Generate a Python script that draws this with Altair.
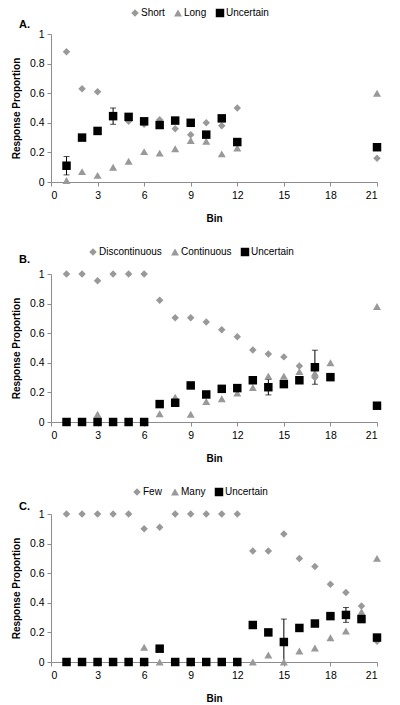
import altair as alt
import pandas as pd

# ---------------- data ----------------
bins_A = [1, 2, 3, 4, 5, 6, 7, 8, 9, 10, 11, 12, 21]
names_A = ["Short", "Long", "Uncertain"]
short_A = [0.88, 0.63, 0.61, 0.45, 0.41, 0.39, 0.42, 0.36, 0.32, 0.40, 0.38, 0.50, 0.16]
long_A = [0.01, 0.07, 0.045, 0.10, 0.14, 0.205, 0.195, 0.225, 0.28, 0.275, 0.19, 0.23, 0.60]
unc_A = [0.11, 0.30, 0.345, 0.445, 0.44, 0.41, 0.385, 0.415, 0.40, 0.32, 0.43, 0.27, 0.235]
err_bins_A = [1, 4]
err_A = [0.062, 0.055]

bins_B = [1, 2, 3, 4, 5, 6, 7, 8, 9, 10, 11, 12, 13, 14, 15, 16, 17, 18, 21]
names_B = ["Discontinuous", "Continuous", "Uncertain"]
disc_B = [1.0, 1.0, 0.955, 1.0, 1.0, 1.0, 0.823, 0.705, 0.705, 0.675, 0.623, 0.576, 0.487, 0.46, 0.44, 0.379, 0.30, 0.30, 0.11]
cont_B = [0, 0, 0.052, 0, 0, 0, 0.056, 0.168, 0.052, 0.139, 0.157, 0.195, 0.233, 0.31, 0.31, 0.341, 0.33, 0.40, 0.78]
unc_B = [0, 0, 0, 0, 0, 0, 0.121, 0.13, 0.247, 0.186, 0.224, 0.229, 0.282, 0.235, 0.256, 0.282, 0.37, 0.303, 0.11]
err_bins_B = [14, 17]
err_B = [0.052, 0.115]

bins_C = list(range(1, 22))
names_C = ["Few", "Many", "Uncertain"]
few_C = [1, 1, 1, 1, 1, 0.90, 0.91, 1, 1, 1, 1, 1, 0.75, 0.75, 0.865, 0.70, 0.646, 0.525, 0.47, 0.378, 0.14]
many_C = [0, 0, 0, 0, 0, 0.10, 0, 0, 0, 0, 0, 0, 0, 0.047, 0, 0.074, 0.095, 0.164, 0.21, 0.34, 0.70]
unc_C = [0, 0, 0, 0, 0, 0, 0.09, 0, 0, 0, 0, 0, 0.25, 0.20, 0.135, 0.23, 0.26, 0.31, 0.318, 0.29, 0.165]
err_bins_C = [15, 19]
err_C = [0.155, 0.05]

x_ticks = [0, 3, 6, 9, 12, 15, 18, 21]
y_ticks = [0, 0.2, 0.4, 0.6, 0.8, 1]

FONT = "Liberation Sans"
GREY = "#999999"
W, H = 326, 148


def panel(label, names, bins, s1, s2, s3, ebins, evals, legend_x, legend_y, title_dy):
    rows = []
    for name, vals in zip(names, [s1, s2, s3]):
        for b, v in zip(bins, vals):
            rows.append({"bin": b, "series": name, "value": v})
    df = pd.DataFrame(rows)
    unc = dict(zip(bins, s3))
    edf = pd.DataFrame({
        "bin": ebins,
        "lo": [unc[b] - e for b, e in zip(ebins, evals)],
        "hi": [unc[b] + e for b, e in zip(ebins, evals)],
    })
    xs = alt.Scale(domain=[0, 21], nice=False, zero=True)
    ys = alt.Scale(domain=[0, 1], nice=False)
    xax = alt.Axis(values=x_ticks, title="Bin", grid=False, labelOverlap=False)
    yax = alt.Axis(values=y_ticks, format="~g", title="Response Proportion", grid=False,
                   labelOverlap=False, tickCount=6)
    X = alt.X("bin:Q", scale=xs, axis=xax)
    leg = alt.Legend(orient="none", legendX=legend_x, legendY=legend_y, direction="horizontal",
                     title=None, symbolSize=30, labelFont=FONT, labelFontSize=10,
                     labelColor="#000", columnPadding=8, labelOffset=1, padding=0,
                     symbolStrokeWidth=0, symbolOpacity=1)
    base_e = alt.Chart(edf)
    rule = base_e.mark_rule(color="black", strokeWidth=1, clip=True).encode(
        x=X, y=alt.Y("lo:Q", scale=ys, axis=yax), y2="hi:Q")
    cap_lo = base_e.mark_tick(color="black", orient="horizontal", size=6, thickness=1, clip=True).encode(
        x=X, y=alt.Y("lo:Q", scale=ys, axis=yax))
    cap_hi = base_e.mark_tick(color="black", orient="horizontal", size=6, thickness=1, clip=True).encode(
        x=X, y=alt.Y("hi:Q", scale=ys, axis=yax))
    pts = alt.Chart(df).mark_point(filled=True, opacity=1, strokeWidth=0).encode(
        x=X,
        y=alt.Y("value:Q", scale=ys, axis=yax),
        shape=alt.Shape("series:N", scale=alt.Scale(domain=names, range=["diamond", "triangle-up", "square"]), legend=leg),
        color=alt.Color("series:N", scale=alt.Scale(domain=names, range=[GREY, GREY, "#000000"]), legend=leg),
        size=alt.Size("series:N", scale=alt.Scale(domain=names, range=[56, 72, 64]), legend=None),
    )
    return alt.layer(rule, cap_lo, cap_hi, pts).properties(
        width=W, height=H,
        title=alt.TitleParams(label, anchor="start", frame="group", orient="top", dx=-32, dy=title_dy,
                              font=FONT, fontSize=11, fontWeight="bold", color="#000"),
    )


pA = panel("A.", names_A, bins_A, short_A, long_A, unc_A, err_bins_A, err_A, 79, -26, 26)
pB = panel("B.", names_B, bins_B, disc_B, cont_B, unc_B, err_bins_B, err_B, 37, -27, 22)
pC = panel("C.", names_C, bins_C, few_C, many_C, unc_C, err_bins_C, err_C, 81, -27, 29)

chart = alt.vconcat(pA, pB, pC, spacing=23).resolve_scale(
    color="independent", shape="independent", size="independent"
).properties(padding={"left": 3, "top": 0, "right": 0, "bottom": 0}).configure_view(stroke=None).configure_axis(
    domainColor="#8c8c8c", tickColor="#8c8c8c", tickSize=4, labelOverlap=False,
    labelFont=FONT, labelFontSize=10.5, labelColor="#000",
    titleFont=FONT, titleFontSize=10, titleFontWeight="bold", titleColor="#000",
).configure_axisY(labelPadding=3, titlePadding=8).configure_axisX(labelPadding=4, titlePadding=13)

chart.save("out.html", embed_options={"renderer": "svg", "actions": False})
